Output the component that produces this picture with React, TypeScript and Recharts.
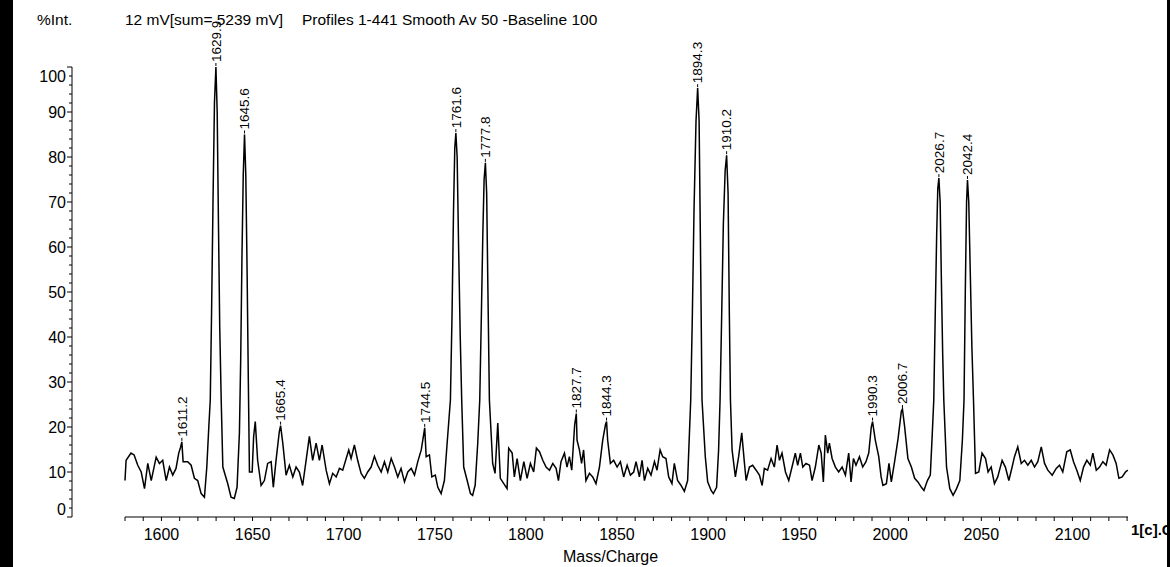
import React from "react";
import {
  ComposedChart,
  Line,
  Scatter,
  XAxis,
  YAxis,
  ReferenceLine,
} from "recharts";

// [mass, %int], left to right
const trace1580: [number, number][] = [
  [1580.0, 8.1], [1580.6, 12.6], [1583.3, 14.2], [1585.0, 13.8], [1587.0, 11.5],
  [1588.9, 10.0], [1590.7, 6.3], [1592.5, 11.9], [1594.4, 8.1], [1597.1, 13.3],
  [1598.9, 11.9], [1600.7, 12.6], [1602.6, 8.1], [1604.4, 11.1], [1606.2, 9.3],
  [1608.0, 10.8], [1609.5, 14.2], [1610.5, 15.5], [1611.2, 16.7], [1611.9, 12.3],
  [1614.4, 12.3], [1616.3, 11.5], [1618.1, 8.6], [1619.9, 8.1], [1621.8, 5.2],
  [1623.6, 4.4], [1624.9, 11.1], [1626.0, 20], [1626.8, 26], [1627.5, 45],
  [1628.3, 70], [1629.1, 92], [1629.9, 100], [1630.6, 90], [1631.3, 65],
  [1632.0, 42], [1632.8, 26], [1633.7, 11.1], [1636.4, 7.4], [1638.2, 4.4],
  [1640.0, 4.1], [1641.5, 6.6], [1642.8, 18.7], [1643.5, 35], [1644.2, 58],
  [1644.9, 76], [1645.6, 85], [1646.3, 76], [1647.0, 55], [1647.7, 30],
  [1648.3, 10.0], [1649.8, 10.0], [1650.6, 17.9], [1651.5, 21.2], [1652.8, 12.6],
  [1654.7, 7.0], [1656.5, 8.1], [1658.3, 11.9], [1660.2, 12.3], [1661.4, 6.6],
  [1662.9, 12.6], [1664.7, 19.0], [1665.4, 20.3], [1666.6, 16.4], [1668.4, 9.3],
  [1670.2, 11.5], [1672.1, 8.9], [1673.9, 11.1], [1675.7, 10.0], [1677.5, 7.0],
  [1679.4, 12.6], [1681.2, 17.9], [1683.0, 12.6], [1684.9, 16.4], [1686.7, 12.6],
  [1688.2, 16.0], [1690.4, 10.4], [1692.2, 7.4], [1694.0, 9.7], [1695.9, 8.9],
  [1697.7, 10.8], [1699.5, 10.4], [1701.4, 13.0], [1702.8, 14.9], [1704.1, 13.0],
  [1705.9, 16.0], [1707.7, 12.6], [1709.6, 9.7], [1711.4, 8.6], [1713.2, 10.0],
  [1715.1, 11.1], [1716.9, 13.5], [1718.7, 11.5],
];

const trace1720: [number, number][] = [
  [1720.6, 10.0], [1722.4, 12.3], [1724.2, 10.0], [1726.1, 13.0], [1727.9, 11.1],
  [1729.7, 8.9], [1731.5, 10.8], [1733.4, 7.8], [1735.2, 10.0], [1737.1, 10.8],
  [1738.9, 9.3], [1740.7, 12.3], [1742.6, 14.9], [1744.5, 19.8], [1745.3, 13.4],
  [1747.1, 13.8], [1748.4, 8.9], [1750.3, 9.3], [1751.7, 6.6], [1753.5, 5.2],
  [1755.3, 8.1], [1756.8, 16.4], [1758.6, 26], [1759.5, 45], [1760.3, 68],
  [1761.0, 82], [1761.6, 85.3], [1762.3, 80], [1763.1, 60], [1764.0, 40],
  [1764.8, 26], [1765.9, 11.1], [1767.8, 8.1], [1769.6, 5.2], [1770.8, 4.8],
  [1772.2, 7.1], [1773.6, 16.4], [1774.7, 26], [1775.6, 45], [1776.4, 63],
  [1777.1, 75], [1777.8, 78.7], [1778.5, 72], [1779.2, 50], [1780.0, 26],
  [1781.8, 11.9], [1783.1, 9.7], [1784.6, 20.9], [1786.0, 8.6], [1787.9, 7.4],
  [1789.7, 6.3], [1790.6, 15.3], [1792.5, 14.2], [1793.7, 8.9], [1795.2, 13.0],
  [1797.0, 8.1], [1798.9, 12.3], [1800.7, 8.6], [1802.5, 11.9], [1804.3, 10.0],
  [1805.8, 15.3], [1807.5, 14.5], [1809.3, 12.6], [1811.1, 11.1], [1813.0, 10.4],
  [1814.8, 11.9], [1816.6, 10.8], [1817.9, 8.1], [1819.3, 12.3], [1821.2, 14.2],
  [1822.6, 11.1], [1823.9, 13.4], [1825.2, 10.4], [1826.8, 20.5], [1827.7, 23.0],
  [1828.1, 17.1], [1829.4, 14.9], [1830.6, 11.9], [1831.7, 14.9], [1833.0, 8.1],
  [1834.9, 9.7], [1836.7, 8.9], [1838.5, 7.4], [1840.4, 11.1], [1842.2, 17.1],
  [1843.7, 20.5], [1844.3, 21.2], [1844.9, 17.1], [1846.4, 11.9], [1848.2, 12.6],
  [1850.1, 11.1], [1851.9, 12.3], [1853.7, 8.9], [1855.6, 11.5], [1857.4, 9.3],
  [1859.2, 10.0],
];

const trace1860: [number, number][] = [
  [1860.5, 12.3], [1862.3, 8.9], [1863.8, 12.6], [1865.1, 8.1], [1866.9, 10.8],
  [1868.7, 9.3], [1870.6, 12.3], [1872.0, 10.4], [1873.7, 14.9], [1875.1, 13.4],
  [1876.9, 13.0], [1878.4, 8.9], [1880.2, 7.4], [1881.5, 11.9], [1883.3, 8.1],
  [1885.2, 7.0], [1887.0, 5.7], [1888.8, 8.1], [1889.8, 18.7], [1890.5, 26],
  [1891.4, 45], [1892.3, 68], [1893.4, 88], [1894.3, 95.3], [1895.1, 88],
  [1895.8, 62], [1896.3, 42], [1896.7, 26], [1898.5, 13.4], [1899.8, 7.8],
  [1901.7, 5.9], [1902.9, 5.2], [1904.7, 6.6], [1905.8, 14.9], [1906.6, 26],
  [1907.5, 45], [1908.4, 65], [1909.4, 77], [1910.2, 80.4], [1911.0, 72],
  [1911.7, 45], [1912.3, 26], [1913.2, 14.9], [1915.0, 8.9], [1916.8, 13.4],
  [1918.5, 18.7], [1920.0, 11.9], [1920.9, 8.1], [1922.7, 11.1], [1924.5, 11.5],
  [1926.4, 10.4], [1928.2, 9.3], [1929.7, 7.0], [1930.9, 10.8], [1932.7, 10.4],
  [1934.6, 13.0], [1936.4, 11.1], [1937.9, 16.0], [1939.2, 12.6], [1940.6, 14.2],
  [1942.5, 10.0], [1944.3, 8.1], [1946.1, 11.1], [1947.9, 14.2], [1949.2, 11.5],
  [1950.7, 14.2], [1952.0, 11.1], [1953.8, 11.9], [1955.7, 11.5], [1957.1, 8.1],
  [1958.9, 11.1], [1960.8, 16.0], [1962.1, 14.2], [1963.3, 7.8], [1964.4, 18.2],
  [1965.7, 14.2], [1966.6, 16.4], [1968.1, 13.0], [1969.9, 11.1], [1971.7, 10.0],
  [1973.6, 11.1], [1975.4, 9.3], [1977.2, 14.2], [1978.5, 7.8], [1979.8, 13.0],
  [1981.2, 11.5], [1983.1, 13.4], [1984.9, 11.1], [1986.7, 12.3], [1988.2, 14.2],
  [1989.6, 20.0], [1990.3, 21.2], [1991.8, 17.1], [1993.7, 13.4], [1995.0, 8.9],
  [1996.0, 7.0], [1997.9, 7.4], [1999.3, 11.9],
];

const trace2000: [number, number][] = [
  [2000.6, 7.8], [2002.4, 12.3], [2004.3, 17.4], [2006.1, 23.5], [2006.7, 24.0],
  [2007.9, 20.1], [2009.7, 13.0], [2011.6, 11.1], [2013.4, 8.6], [2015.2, 7.8],
  [2017.1, 6.6], [2018.5, 5.9], [2020.4, 8.1], [2022.0, 9.3], [2023.1, 18.7],
  [2023.9, 26], [2024.7, 45], [2025.5, 63], [2026.1, 73], [2026.7, 75.3],
  [2027.4, 70], [2028.1, 52], [2028.8, 36], [2029.4, 26], [2030.9, 11.1],
  [2032.7, 6.3], [2034.5, 4.8], [2036.4, 6.3], [2038.2, 8.1], [2039.6, 17.1],
  [2040.5, 26], [2041.2, 50], [2041.9, 70], [2042.4, 74.9], [2043.1, 70],
  [2043.9, 55], [2044.8, 38], [2045.7, 26], [2046.8, 9.7], [2048.6, 10.0],
  [2050.4, 14.2], [2052.3, 13.0], [2053.7, 10.0], [2055.4, 11.1], [2057.2, 7.4],
  [2059.0, 8.9], [2061.4, 12.6], [2063.2, 11.1], [2065.1, 8.1], [2066.9, 11.1],
  [2068.2, 13.4], [2070.0, 15.6], [2071.9, 11.9], [2073.7, 12.6], [2075.5, 11.5],
  [2077.4, 12.6], [2079.2, 11.1], [2081.0, 12.3], [2082.9, 15.6], [2084.7, 11.9],
  [2086.5, 10.4], [2088.9, 9.3], [2091.1, 10.8], [2092.9, 11.5], [2094.7, 10.0],
  [2096.9, 14.5], [2098.8, 14.9], [2100.6, 12.3], [2102.4, 10.4], [2104.3, 8.1],
  [2106.1, 11.1], [2107.9, 12.6], [2109.8, 11.5], [2111.2, 14.2], [2113.1, 10.4],
  [2114.9, 11.1], [2116.7, 12.3], [2118.5, 11.5], [2120.4, 14.9], [2122.2, 13.8],
  [2124.0, 11.9], [2125.5, 8.6], [2127.3, 8.9], [2129.1, 10.0], [2130.4, 10.4],
];

// labelled peaks
const peakMasses = [
  1611.2, 1629.9, 1645.6, 1665.4, 1744.5, 1761.6, 1777.8, 1827.7,
  1844.3, 1894.3, 1910.2, 1990.3, 2006.7, 2026.7, 2042.4,
];
const peakHeights = [
  16.7, 100, 85, 20.3, 19.8, 85.3, 78.7, 23.0,
  21.2, 95.3, 80.4, 21.2, 24.0, 75.3, 74.9,
];

const xMajor = [1600, 1650, 1700, 1750, 1800, 1850, 1900, 1950, 2000, 2050, 2100];
const xTicks = [
  1580, 1590, 1600, 1610, 1620, 1630, 1640, 1650, 1660, 1670, 1680, 1690,
  1700, 1710, 1720, 1730, 1740, 1750, 1760, 1770, 1780, 1790, 1800, 1810,
  1820, 1830, 1840, 1850, 1860, 1870, 1880, 1890, 1900, 1910, 1920, 1930,
  1940, 1950, 1960, 1970, 1980, 1990, 2000, 2010, 2020, 2030, 2040, 2050,
  2060, 2070, 2080, 2090, 2100, 2110, 2120, 2130,
];
const yMajor = [0, 10, 20, 30, 40, 50, 60, 70, 80, 90, 100];
const yTicks = [
  0, 2, 4, 6, 8, 10, 12, 14, 16, 18, 20, 22, 24, 26, 28, 30, 32, 34, 36, 38,
  40, 42, 44, 46, 48, 50, 52, 54, 56, 58, 60, 62, 64, 66, 68, 70, 72, 74, 76,
  78, 80, 82, 84, 86, 88, 90, 92, 94, 96, 98, 100,
];

const FONT = '"Liberation Sans", Arial, sans-serif';

const spectrum = [...trace1580, ...trace1720, ...trace1860, ...trace2000].map(
  ([mass, intensity]) => ({ mass, intensity })
);
const peaks = peakMasses.map((mass, i) => ({ mass, intensity: peakHeights[i] }));

const YTick = (props: any) => {
  const { x, y, payload } = props;
  const v = payload.value;
  const major = yMajor.includes(v);
  // end labels sit inside the axis ends
  const ty = v === 100 ? y + 9 : v === 0 ? y - 8 : y;
  return (
    <g>
      <line x1={x - (major ? 5 : 3)} x2={x} y1={y} y2={y} stroke="#000" strokeWidth={1} />
      {major && (
        <text x={x - 6} y={ty} dy="0.36em" textAnchor="end" fontSize={16} fontFamily={FONT} fill="#000">
          {v}
        </text>
      )}
    </g>
  );
};

const XTick = (props: any) => {
  const { x, y, payload } = props;
  const v = payload.value;
  const major = xMajor.includes(v);
  return (
    <g>
      <line x1={x} x2={x} y1={y} y2={y + 4} stroke="#000" strokeWidth={1} />
      {major && (
        <text x={x} y={y + 23} textAnchor="middle" fontSize={16} fontFamily={FONT} fill="#000">
          {v}
        </text>
      )}
    </g>
  );
};

const PeakLabel = (props: any) => {
  const { cx, cy, payload } = props;
  if (cx == null || cy == null) return null;
  const by = cy - 5;
  return (
    <g>
      <line x1={cx} x2={cx} y1={cy - 1} y2={cy - 4} stroke="#000" strokeWidth={1} />
      <text
        x={cx}
        y={by}
        dy="0.36em"
        transform={`rotate(-90 ${cx} ${by})`}
        fontSize={13.5}
        fontFamily={FONT}
        fill="#000"
      >
        {payload.mass.toFixed(1)}
      </text>
    </g>
  );
};

export default function App() {
  return (
    <div
      style={{
        position: "absolute",
        left: 0,
        top: 0,
        width: 1170,
        height: 567,
        background: "#fff",
        overflow: "hidden",
        fontFamily: FONT,
      }}
    >
      <ComposedChart
        width={1170}
        height={567}
        margin={{ top: 67, right: 42, bottom: 0, left: 0 }}
      >
        <XAxis
          dataKey="mass"
          type="number"
          domain={[1580, 2130.5]}
          ticks={xTicks}
          interval={0}
          padding={{ left: 53, right: 0 }}
          axisLine={false}
          tickLine={false}
          tickSize={0}
          tickMargin={0}
          height={50}
          tick={<XTick />}
        />
        <YAxis
          type="number"
          domain={[0, 100]}
          ticks={yTicks}
          interval={0}
          width={72}
          axisLine={{ stroke: "#000", strokeWidth: 1 }}
          tickLine={false}
          tickSize={0}
          tickMargin={0}
          tick={<YTick />}
        />
        <ReferenceLine
          segment={[
            { x: 1580, y: 0 },
            { x: 2130.5, y: 0 },
          ]}
          stroke="#000"
          strokeWidth={1}
        />
        <Line
          data={spectrum}
          dataKey="intensity"
          type="linear"
          stroke="#000"
          strokeWidth={1.5}
          dot={false}
          activeDot={false}
          isAnimationActive={false}
        />
        <Scatter
          data={peaks}
          dataKey="intensity"
          shape={<PeakLabel />}
          isAnimationActive={false}
        />
      </ComposedChart>

      <div style={{ position: "absolute", left: 37, top: 11, fontSize: 15.5, color: "#000" }}>%Int.</div>
      <div style={{ position: "absolute", left: 125, top: 11, fontSize: 15.5, color: "#000", whiteSpace: "pre" }}>
        12 mV[sum= 5239 mV]
      </div>
      <div style={{ position: "absolute", left: 302, top: 11, fontSize: 15.5, color: "#000", whiteSpace: "pre" }}>
        Profiles 1-441 Smooth Av 50 -Baseline 100
      </div>
      <div style={{ position: "absolute", left: 563, top: 548, fontSize: 16, color: "#000" }}>Mass/Charge</div>
      <div
        style={{
          position: "absolute",
          left: 1131,
          top: 521,
          fontSize: 15,
          fontWeight: "bold",
          color: "#000",
          whiteSpace: "pre",
        }}
      >
        1[c].C
      </div>

      <div style={{ position: "absolute", left: 0, top: 0, width: 13, height: 567, background: "#000" }} />
      <div style={{ position: "absolute", left: 1167, top: 0, width: 3, height: 567, background: "#000" }} />
    </div>
  );
}
